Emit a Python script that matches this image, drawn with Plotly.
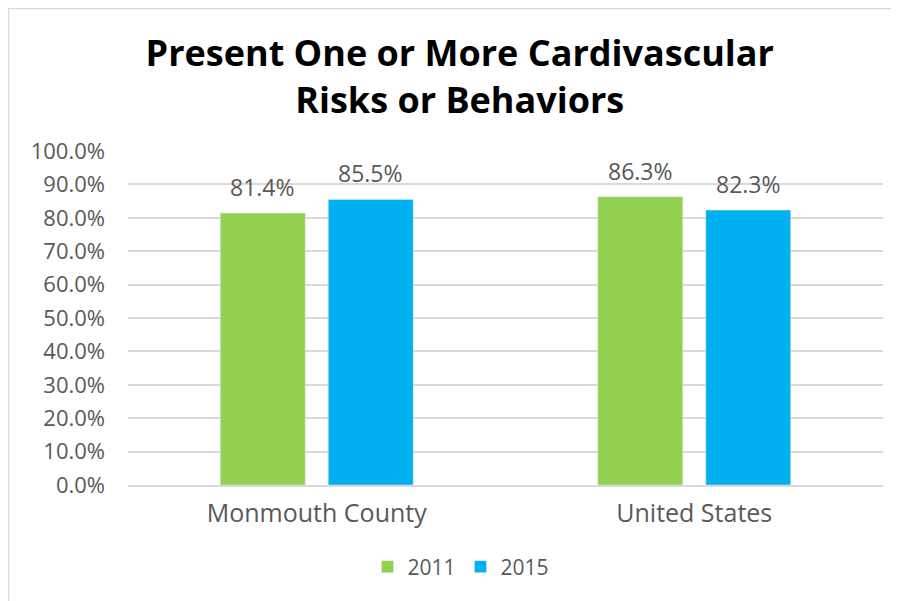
import plotly.graph_objects as go

categories = ["Monmouth County", "United States"]
years = ["2011", "2015"]
values_2011 = [81.4, 86.3]
values_2015 = [85.5, 82.3]
colors = ["#92D050", "#00B0F0"]
tick_vals = [0, 10, 20, 30, 40, 50, 60, 70, 80, 90, 100]
tick_text = [f"{v:.1f}%" for v in tick_vals]

FONT = "'Open Sans', sans-serif"
GRAY = "#595959"

# page body has an 8px margin; compensate so the plot lands where the reference has it
W, H = 891, 593
L, R, T, B = 120, 16, 143, 116
PW, PH = W - L - R, H - T - B
BARGAP, GROUPGAP = 0.428, 0.213

fig = go.Figure()
for name, vals, col in zip(years, [values_2011, values_2015], colors):
    fig.add_trace(go.Bar(name=name, x=categories, y=vals, marker_color=col))

# data labels placed above each bar (offset within group from the bar layout)
cat_w = PW / len(categories)
slot = cat_w * (1 - BARGAP) / len(years)
for i, vals in enumerate([values_2011, values_2015]):
    xoff = (i - (len(years) - 1) / 2) * slot
    for c, v in zip(categories, vals):
        fig.add_annotation(x=c, y=v, xref="x", yref="y", text=f"{v:.1f}%",
                           showarrow=False, xshift=xoff, yshift=26,
                           xanchor="center", yanchor="middle",
                           font=dict(size=23, color=GRAY, family=FONT))

fig.update_layout(
    width=W, height=H,
    margin=dict(l=L, r=R, t=T, b=B, pad=0),
    paper_bgcolor="white", plot_bgcolor="white",
    barmode="group", bargap=BARGAP, bargroupgap=GROUPGAP,
    title=dict(text="<b>Present One or More Cardivascular<br>Risks or Behaviors</b>",
               x=0.507, xanchor="center", y=0.902, yanchor="middle",
               font=dict(size=36, color="black", family=FONT)),
    font=dict(family=FONT, color=GRAY, size=22),
    yaxis=dict(range=[0, 100], tickvals=tick_vals, ticktext=tick_text,
               showgrid=True, gridcolor="#D9D9D9", gridwidth=1.5,
               zeroline=False, showline=False, ticks="", ticklen=0,
               ticklabelstandoff=22,
               tickfont=dict(size=22, color=GRAY, family=FONT)),
    xaxis=dict(showline=True, linecolor="#D9D9D9", linewidth=1.5, ticks="",
               ticklabelstandoff=5,
               tickfont=dict(size=25, color=GRAY, family=FONT)),
    legend=dict(orientation="h", x=0.441, xanchor="center", y=-0.2455, yanchor="middle",
                font=dict(size=21, color=GRAY, family=FONT), itemwidth=30,
                tracegroupgap=0),
    showlegend=True,
)
# outer chart border (light gray) along top and left
fig.add_shape(type="line", xref="paper", yref="paper",
              x0=-L / PW, x1=1 + R / PW, y0=1 + (T - 0.5) / PH, y1=1 + (T - 0.5) / PH,
              line=dict(color="#D9D9D9", width=1.5))
fig.add_shape(type="line", xref="paper", yref="paper",
              x0=-(L - 0.5) / PW, x1=-(L - 0.5) / PW, y0=1 + T / PH, y1=-B / PH,
              line=dict(color="#D9D9D9", width=1.5))
fig.write_html("out.html")
